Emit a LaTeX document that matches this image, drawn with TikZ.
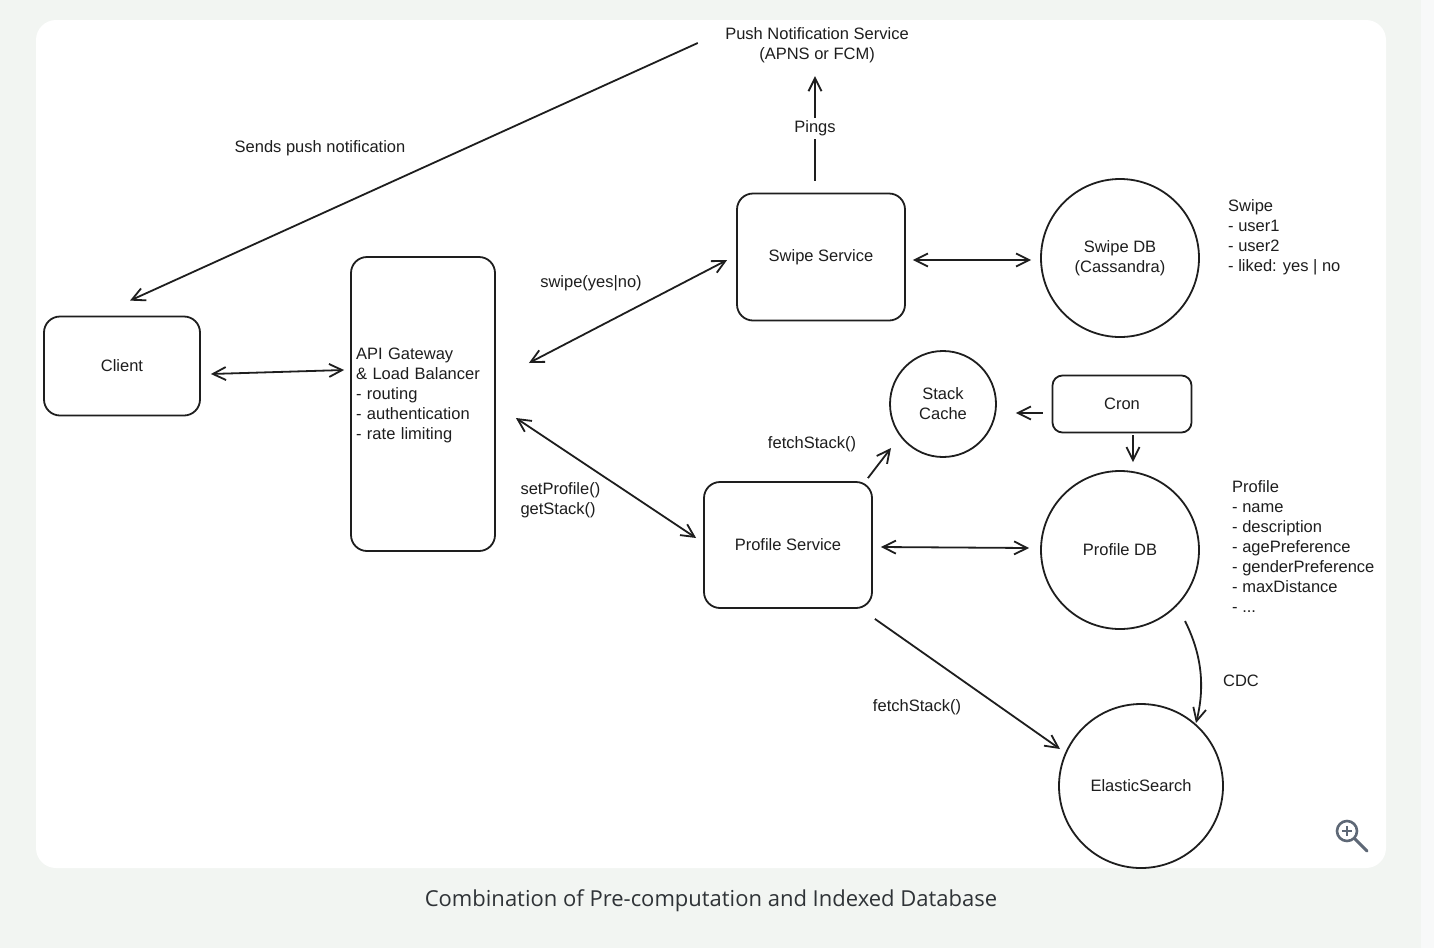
\documentclass[tikz,border=0pt]{standalone}
\usepackage{fontspec}
\setmainfont{Liberation Sans}
\newfontfamily\capfont{Open Sans}
\usetikzlibrary{arrows.meta,positioning}
\definecolor{ink}{HTML}{1E1E1E}
\definecolor{pagebg}{HTML}{F2F5F2}
\definecolor{stripbg}{HTML}{F8F9F9}
\definecolor{capink}{HTML}{2F3337}
\definecolor{iconink}{HTML}{5E6876}

\begin{document}
\begin{tikzpicture}[x=1pt,y=-1pt,
  every node/.style={font=\fontsize{16.5}{20}\selectfont,text=ink},
  box/.style={draw=ink,line width=1.8pt,rounded corners=16pt,align=center},
  db/.style={draw=ink,line width=1.8pt,circle,inner sep=0pt,align=center},
  >={Straight Barb[length=13pt,width=13pt]},
  link/.style={draw=ink,line width=1.8pt,->},
  both/.style={draw=ink,line width=1.8pt,<->}]
  \fill[pagebg] (0,0) rectangle (1434,948);
  \fill[stripbg] (1421,0) rectangle (1434,948);
  \fill[white,rounded corners=20pt] (36,20) rectangle (1386,868);
  \useasboundingbox (0,0) rectangle (1434,948);

  \node[box,minimum width=156pt,minimum height=99pt] (client) at (122,366) {Client};
  \node[box,minimum width=144pt,minimum height=294pt,text width=134pt,align=left] (api) at (423,404)
    {API Gateway\\\& Load Balancer\\- routing\\- authentication\\- rate limiting\\\mbox{}};
  \node[box,minimum width=168pt,minimum height=127pt] (swipe) at (821,257) {Swipe Service};
  \node[db,minimum size=158pt] (swipedb) at (1120,258) {Swipe DB\\(Cassandra)};
  \node[box,minimum width=168pt,minimum height=126pt] (profile) at (788,545) {Profile Service};
  \node[db,minimum size=158pt] (profiledb) at (1120,550) {Profile DB};
  \node[db,minimum size=106pt] (cache) at (943,404) {Stack\\Cache};
  \node[box,rounded corners=10pt,minimum width=139pt,minimum height=57pt] (cron) at (1122,404) {Cron};
  \node[db,minimum size=164pt] (elastic) at (1141,786) {ElasticSearch};
  \node[align=center] (push) at (817,45) {Push Notification Service\\(APNS or FCM)};
  \node[anchor=north west,inner sep=0pt,align=left] (swipenote) at (1228,199)
    {Swipe\\- user1\\- user2\\- liked: yes | no};
  \node[anchor=north west,inner sep=0pt,align=left] (profilenote) at (1232,480)
    {Profile\\- name\\- description\\- agePreference\\- genderPreference\\- maxDistance\\- ...};

  \draw[link] ([shift={(-24,-2)}]push.west) -- ([shift={(8,-15)}]client.north);
  \node (sendslbl) at (320,148) {Sends push notification};
  \draw[link] ([shift={(-6,-12)}]swipe.north) -- node[fill=white,inner sep=3pt] (pingslbl) {Pings} ([shift={(-2,10)}]push.south);
  \draw[both] ([shift={(10,8)}]client.east) -- ([shift={(-6,-34)}]api.west);
  \draw[both] ([shift={(33,-41)}]api.east) -- ([shift={(-9,3)}]swipe.west);
  \node (swipelbl) at (591,283) {swipe(yes|no)};
  \draw[both] ([shift={(20,14)}]api.east) -- ([shift={(-7,-7)}]profile.west);
  \node[anchor=west,align=left] (setlbl) at (517,500) {setProfile()\\getStack()};
  \draw[both] ([shift={(7,3)}]swipe.east) -- ([shift={(-9,2)}]swipedb.west);
  \draw[both] ([shift={(8,2)}]profile.east) -- ([shift={(-11,-2)}]profiledb.west);
  \draw[link] ([shift={(-5,-3)}]profile.north east) -- ([shift={(-52,44)}]cache.center);
  \node (fetchlblA) at (812,444) {fetchStack()};
  \draw[link] ([shift={(-9,9)}]cron.west) -- ([shift={(19,9)}]cache.east);
  \draw[link] ([shift={(11,2)}]cron.south) -- ([shift={(13,-8)}]profiledb.north);
  \draw[link] ([shift={(65,71)}]profiledb.center) .. controls +(15,30) and +(10,-40) .. ([shift={(55,-63)}]elastic.center);
  \node (cdclbl) at (1241,681) {CDC};
  \draw[link] ([shift={(2,10)}]profile.south east) -- ([shift={(-81,-37)}]elastic.center);
  \node (fetchlblB) at (917,707) {fetchStack()};

  \draw[iconink,line width=2.6pt] (1347,831) circle (10);
  \draw[iconink,line width=2pt] (1342,831) -- (1352,831) (1347,826) -- (1347,836);
  \draw[iconink,line width=3pt,line cap=round] (1355,839) -- (1367,851);

  \node[text=capink,font=\capfont\fontsize{22}{26}\selectfont] (caption) at (711,901)
    {Combination of Pre-computation and Indexed Database};
\end{tikzpicture}
\end{document}
